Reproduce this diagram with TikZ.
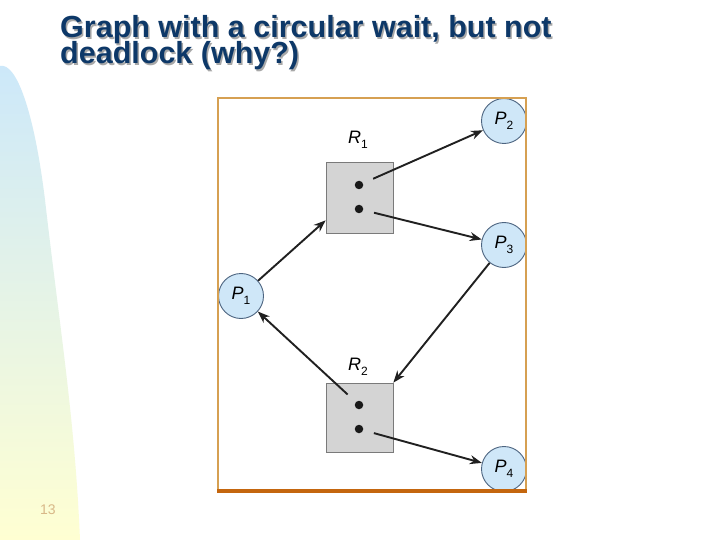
\documentclass[tikz,border=0pt]{standalone}
\usepackage{fontspec}
\setmainfont{Liberation Sans}
\usetikzlibrary{arrows.meta,calc}
\definecolor{navy}{HTML}{0D3868}
\definecolor{shadowc}{HTML}{A8A8A8}
\definecolor{bgblue}{HTML}{CCE8FA}
\definecolor{bgyellow}{HTML}{FFFFD2}
\definecolor{framec}{HTML}{D6A052}
\definecolor{framebot}{HTML}{C4660E}
\definecolor{procfill}{HTML}{CFE7F8}
\definecolor{procborder}{HTML}{4C6480}
\definecolor{resfill}{HTML}{D4D4D4}
\definecolor{resborder}{HTML}{7A7A7A}
\definecolor{arrowc}{HTML}{202020}
\definecolor{numc}{HTML}{D8B888}
\begin{document}
\begin{tikzpicture}[x=1pt,y=-1pt,
  proc/.style={circle,draw=procborder,fill=procfill,line width=0.9pt,minimum size=45pt,inner sep=0pt,font=\fontsize{18}{18}\selectfont},
  res/.style={rectangle,draw=resborder,fill=resfill,line width=0.7pt,minimum width=67pt,inner sep=0pt},
  inst/.style={circle,fill=black!90,minimum size=8.5pt,inner sep=0pt},
  arr/.style={-{Stealth[length=12pt,width=9pt]},line width=1.9pt,draw=arrowc},
  lab/.style={font=\fontsize{18}{18}\selectfont,inner sep=0pt,anchor=base west},
  ttl/.style={font=\fontsize{30.5}{26}\selectfont\bfseries,inner sep=0pt,anchor=base west}
]
\useasboundingbox (0,0) rectangle (720,540);
\fill[white] (0,0) rectangle (720,540);
% background gradient shape
\shade[top color=bgblue,bottom color=bgyellow]
  (0,66) .. controls (16,62) and (34,110) .. (45,200)
  .. controls (60,330) and (75,420) .. (80,540) -- (0,540) -- cycle;
% title (shadow then text)
\node[ttl,text=shadowc] at (61.5,39.5) {Graph with a circular wait, but not};
\node[ttl,text=shadowc] at (61.5,65.5) {deadlock (why?)};
\node[ttl,text=navy] (t1) at (60,38) {Graph with a circular wait, but not};
\node[ttl,text=navy] (t2) at (60,64) {deadlock (why?)};
% page number
\node[font=\fontsize{14}{14}\selectfont,text=numc,inner sep=0pt] (num) at (48,510) {13};
% frame
\fill[white] (218,98) rectangle (526,492);
% resources
\node[res,minimum height=71pt] (R1) at (359.5,197.5) {};
\node[res,minimum height=69pt] (R2) at (359.5,417.5) {};
\node[inst] (d11) at (359,185) {};
\node[inst] (d12) at (359,209) {};
\node[inst] (d21) at (359,405) {};
\node[inst] (d22) at (359,429) {};
\node[lab] (r1l) at (348,144) {\textit{R}\raisebox{-5pt}{\fontsize{12}{12}\selectfont 1}};
\node[lab] (r2l) at (348,370.5) {\textit{R}\raisebox{-5pt}{\fontsize{12}{12}\selectfont 2}};
% processes (clipped by the frame)
\begin{scope}
\clip (218,98) rectangle (526,492);
\node[proc] (P1) at (241,296) {\textit{P}\raisebox{-5pt}{\fontsize{12}{12}\selectfont 1}};
\node[proc] (P2) at (504,121) {\textit{P}\raisebox{-5pt}{\fontsize{12}{12}\selectfont 2}};
\node[proc] (P3) at (504,245) {\textit{P}\raisebox{-5pt}{\fontsize{12}{12}\selectfont 3}};
\node[proc] (P4) at (504,469) {\textit{P}\raisebox{-5pt}{\fontsize{12}{12}\selectfont 4}};
\end{scope}
\draw[framec,line width=1.5pt] (218,98) rectangle (526,492);
\draw[framebot,line width=4pt] (217,491) -- (527,491);
% edges
\draw[arr,shorten <=11pt] (d11) -- (P2);
\draw[arr,shorten <=11pt] (d12) -- (P3);
\draw[arr] (P1) -- ($(R1.south west)+(0,-13)$);
\draw[arr] (P3) -- (R2.north east);
\draw[arr,shorten <=11pt] (d21) -- (P1);
\draw[arr,shorten <=11pt] (d22) -- (P4);
\end{tikzpicture}
\end{document}
